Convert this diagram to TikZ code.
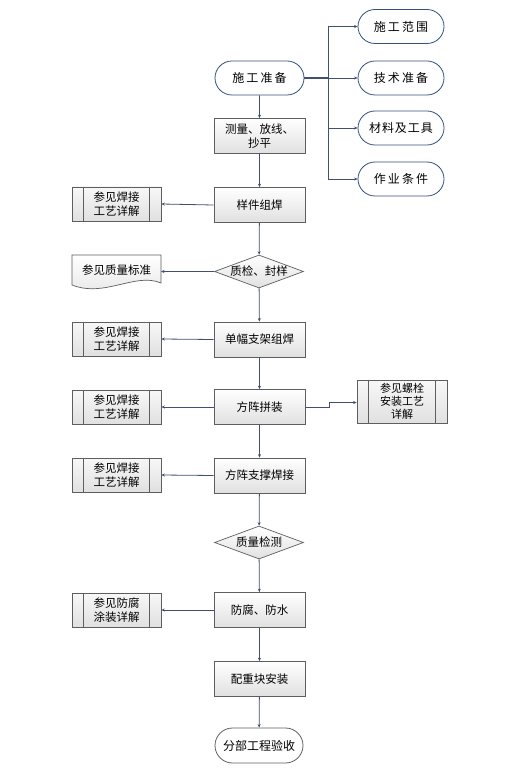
\documentclass[tikz,border=0pt]{standalone}
\usepackage{fontspec}
\setmainfont{Noto Sans CJK SC}
\newfontfamily\cjkw[LetterSpace=18]{Noto Sans CJK SC}
\usetikzlibrary{arrows.meta,shapes.geometric,shapes.misc}
\definecolor{lnblue}{HTML}{3F5072}
\definecolor{bdblue}{HTML}{34507E}
\definecolor{bdgrey}{HTML}{5E5E5E}
\tikzset{
  every node/.style={font=\fontsize{11.5}{14}\selectfont, align=center, inner sep=1pt},
  stadium/.style={rounded rectangle, draw=bdblue, line width=0.8pt, fill=white, minimum width=88pt, minimum height=34pt, font=\cjkw\fontsize{12}{14}\selectfont},
  procbox/.style={rectangle, draw=bdgrey, line width=0.7pt, top color=white, bottom color=black!12, minimum width=91pt, minimum height=35pt},
  refbox/.style={rectangle, draw=bdgrey, line width=0.7pt, top color=black!3, bottom color=black!12, minimum width=89pt, minimum height=34pt},
  decision/.style={diamond, aspect=2.8, draw=bdgrey, line width=0.7pt, top color=white, bottom color=black!12, minimum width=89pt, minimum height=33pt, inner sep=0pt},
  conn/.style={draw=lnblue, line width=0.8pt, -{Stealth[length=3.5pt,width=3pt]}},
  conn2/.style={draw=lnblue, line width=0.8pt},
}
\newcommand{\sidebars}[1]{\draw[bdgrey, line width=0.7pt] ([xshift=12pt]#1.north west) -- ([xshift=12pt]#1.south west) ([xshift=-12pt]#1.north east) -- ([xshift=-12pt]#1.south east);}
\begin{document}
\begin{tikzpicture}[x=1pt,y=-1pt]
\useasboundingbox[fill=white] (0,0) rectangle (504,775);
% main column
\node[stadium, minimum width=91pt] (start) at (259.5,78) {施工准备};
\node[procbox] (s1) at (259.5,136) {测量、放线、\\抄平};
\node[procbox] (s2) at (259.5,205) {样件组焊};
\node[decision] (d1) at (259,271.5) {质检、封样};
\node[procbox] (s3) at (259.5,339.5) {单幅支架组焊};
\node[procbox] (s4) at (259.5,407) {方阵拼装};
\node[procbox] (s5) at (259.5,475.5) {方阵支撑焊接};
\node[decision] (d2) at (259,542.5) {质量检测};
\node[procbox] (s6) at (259.5,610) {防腐、防水};
\node[procbox] (s7) at (259.5,679) {配重块安装};
\node[stadium, draw=bdgrey, font=\fontsize{12}{14}\selectfont, minimum width=90pt, minimum height=35pt] (end) at (259,745.5) {分部工程验收};
% right column
\node[stadium] (r1) at (401,26.5) {施工范围};
\node[stadium] (r2) at (401,78) {技术准备};
\node[stadium, font=\fontsize{12}{14}\selectfont] (r3) at (401,128) {\addfontfeature{LetterSpace=8}材料及工具};
\node[stadium] (r4) at (401,179) {作业条件};
\node[refbox, minimum width=90pt, minimum height=43pt, font=\fontsize{11}{13}\selectfont] (rb) at (402,401.5) {参见螺栓\\安装工艺\\详解};
\sidebars{rb}
% left column
\node[refbox] (l1) at (116.5,204) {参见焊接\\工艺详解};
\sidebars{l1}
\node[refbox] (l3) at (116.5,339) {参见焊接\\工艺详解};
\sidebars{l3}
\node[refbox] (l4) at (116.5,407) {参见焊接\\工艺详解};
\sidebars{l4}
\node[refbox] (l5) at (116.5,475) {参见焊接\\工艺详解};
\sidebars{l5}
\node[refbox] (l6) at (116.5,610) {参见防腐\\涂装详解};
\sidebars{l6}
% document shape
\coordinate (docA) at (72,255);
\coordinate (docB) at (161,255);
\draw[bdgrey, line width=0.7pt, top color=white, bottom color=black!10]
  (docA) -- (docB) -- (161,283) .. controls (135,272) and (105,298) .. (72,285) -- cycle;
\node (doc) at (116.5,270) {参见质量标准};
\coordinate (docR) at (161,271.5);
% connectors main
\draw[conn] (start) -- (s1);
\draw[conn] (s1) -- (s2);
\draw[conn] (s2) -- (d1);
\draw[conn] (d1) -- (s3);
\draw[conn] (s3) -- (s4);
\draw[conn] (s4) -- (s5);
\draw[conn] (s5) -- (d2);
\draw[conn] (d2) -- (s6);
\draw[conn] (s6) -- (s7);
\draw[conn] (s7) -- (end);
% to right
\coordinate (bus) at (328,78);
\draw[conn2, line width=1.1pt] (start.east) -- (bus);
\draw[conn2] (328,26.5) -- (328,179);
\draw[conn] (328,26.5) -- (r1.west);
\draw[conn] (bus) -- (r2.west);
\draw[conn] (328,128) -- (r3.west);
\draw[conn] (328,179) -- (r4.west);
\draw[conn] (s4.east) -- (329,407) -- (329,402.5) -- (rb.west |- 0,402.5);
% to left
\draw[conn] (s2.west) -- (l1.east);
\draw[conn] (d1.west) -- (docR);
\draw[conn] (s3.west) -- (l3.east);
\draw[conn] (s4.west) -- (l4.east);
\draw[conn] (s5.west) -- (l5.east);
\draw[conn] (s6.west) -- (l6.east);
\end{tikzpicture}
\end{document}
